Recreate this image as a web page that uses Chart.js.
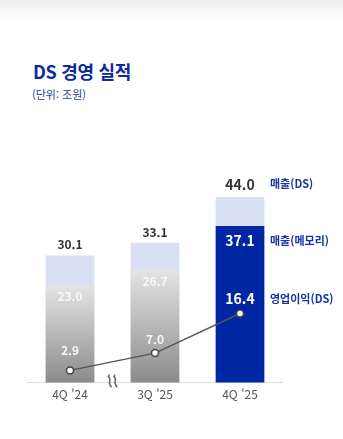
<!DOCTYPE html>
<html lang="ko">
<head>
<meta charset="utf-8">
<title>DS 경영 실적</title>
<script src="https://cdn.jsdelivr.net/npm/chart.js@4.4.1/dist/chart.umd.min.js"></script>
<style>
    html, body { margin: 0; padding: 0; }
    body {
        width: 343px; height: 439px; position: relative; overflow: hidden;
        background: linear-gradient(#efefef 0px, #ffffff 22px, #ffffff 100%);
        font-family: "Noto Sans CJK KR", "Noto Sans", sans-serif;
    }
    .title { position: absolute; left: 33px; top: 58px; margin: 0; font-size: 18px; font-weight: 700; color: #0b2a9c; letter-spacing: -0.3px; }
    .unit { position: absolute; left: 32px; top: 86px; margin: 0; font-size: 11px; color: #2a3e98; }
    #chart-wrap { position: absolute; left: 0; top: 0; width: 343px; height: 439px; }
</style>
</head>
<body>
<h1 class="title">DS 경영 실적</h1>
<p class="unit">(단위: 조원)</p>
<div id="chart-wrap"><canvas id="ds-chart"></canvas></div>
<script>
'use strict';

const quarters = ["4Q '24", "3Q '25", "4Q '25"];
const salesDS = [30.1, 33.1, 44.0];
const salesMemory = [23.0, 26.7, 37.1];
const opProfitDS = [2.9, 7.0, 16.4];
const seriesNames = ['매출(DS)', '매출(메모리)', '영업이익(DS)'];

const BLUE = '#0027a3';
const LABEL_BLUE = '#1434a4';
const fontFamily = '"Noto Sans CJK KR", "Noto Sans", sans-serif';

// gray gradient for the older quarters, solid blue for the latest one
function memoryColor(ctx) {
    const chart = ctx.chart;
    if (ctx.dataIndex === salesMemory.length - 1) return BLUE;
    const y = chart.scales.y;
    if (!chart.chartArea || !y || ctx.dataIndex === undefined) return '#bbbbbb';
    const top = y.getPixelForValue(salesMemory[ctx.dataIndex]);
    const bottom = y.getPixelForValue(0);
    if (!isFinite(top) || !isFinite(bottom)) return '#bbbbbb';
    const g = chart.ctx.createLinearGradient(0, top, 0, bottom);
    g.addColorStop(0, '#e4e4e4');
    g.addColorStop(1, '#8b8b8b');
    return g;
}

const valueLabels = {
    id: 'valueLabels',
    afterDatasetsDraw(chart) {
        const { ctx } = chart;
        const last = quarters.length - 1;
        const totalMeta = chart.getDatasetMeta(0);
        const memMeta = chart.getDatasetMeta(1);
        const lineMeta = chart.getDatasetMeta(2);
        const profitOffsets = [20, 14, 15];

        ctx.save();
        ctx.textAlign = 'center';
        ctx.textBaseline = 'middle';
        quarters.forEach((q, i) => {
            const big = i === last;
            const t = totalMeta.data[i];
            ctx.font = `700 ${big ? 14 : 12}px ${fontFamily}`;
            ctx.fillStyle = '#333333';
            ctx.fillText(salesDS[i].toFixed(1), t.x, t.y - (big ? 13 : 11));

            const m = memMeta.data[i];
            ctx.fillStyle = big ? '#ffffff' : '#f7f7f7';
            ctx.fillText(salesMemory[i].toFixed(1), m.x, m.y + (big ? 14 : 11));

            const p = lineMeta.data[i];
            ctx.fillText(opProfitDS[i].toFixed(1), m.x, p.y - profitOffsets[i]);
        });

        // series names beside the latest quarter
        const bar = totalMeta.data[last];
        const x = bar.x + bar.width / 2 + 6;
        ctx.textAlign = 'left';
        ctx.font = `700 11px ${fontFamily}`;
        ctx.fillStyle = LABEL_BLUE;
        ctx.fillText(seriesNames[0], x, bar.y - 13);
        ctx.fillText(seriesNames[1], x, memMeta.data[last].y + 14);
        ctx.fillText(seriesNames[2], x, lineMeta.data[last].y - 15);
        ctx.restore();
    }
};

// axis break mark between the first two quarters
const axisBreak = {
    id: 'axisBreak',
    afterDraw(chart) {
        const { ctx, scales } = chart;
        const cx = (scales.x.getPixelForValue(0) + scales.x.getPixelForValue(1)) / 2;
        const base = scales.y.getPixelForValue(0);
        ctx.save();
        ctx.strokeStyle = '#666666';
        ctx.lineWidth = 1.5;
        ctx.lineCap = 'round';
        [-2.8, 2.8].forEach(dx => {
            const x0 = cx + dx;
            ctx.beginPath();
            ctx.moveTo(x0 - 1.5, base - 6);
            ctx.bezierCurveTo(x0 + 3, base - 4, x0 - 3, base + 0, x0 + 1.5, base + 4);
            ctx.moveTo(x0 - 1.5, base - 6);
            ctx.lineTo(x0 - 0.5, base - 7.5);
            ctx.moveTo(x0 + 1.5, base + 4);
            ctx.lineTo(x0 + 0.5, base + 3);
            ctx.stroke();
        });
        ctx.restore();
    }
};

new Chart(document.getElementById('ds-chart'), {
    type: 'bar',
    data: {
        labels: quarters,
        datasets: [
            {
                label: seriesNames[0],
                data: salesDS,
                backgroundColor: '#d9e0f3',
                barThickness: 48,
                order: 3
            },
            {
                label: seriesNames[1],
                data: salesMemory,
                backgroundColor: memoryColor,
                barThickness: 48,
                order: 2
            },
            {
                type: 'line',
                label: seriesNames[2],
                data: opProfitDS,
                borderColor: '#555555',
                borderWidth: 1.5,
                pointRadius: 3.5,
                pointBackgroundColor: '#ffffff',
                pointBorderColor: '#444444',
                pointBorderWidth: 1.5,
                tension: 0,
                order: 1
            }
        ]
    },
    options: {
        responsive: true,
        maintainAspectRatio: false,
        animation: false,
        layout: { padding: { top: 172, left: 27.5, right: 60.5, bottom: 32 } },
        plugins: {
            legend: { display: false },
            tooltip: { enabled: false }
        },
        scales: {
            x: {
                stacked: true,
                grid: { display: false, drawTicks: false },
                border: { color: '#dcdcdc', width: 1 },
                ticks: { color: '#555555', padding: 5, font: { family: fontFamily, size: 12 } }
            },
            y: {
                display: false,
                stacked: false,
                min: 0,
                max: 50
            }
        }
    },
    plugins: [valueLabels, axisBreak]
});
</script>
</body>
</html>
